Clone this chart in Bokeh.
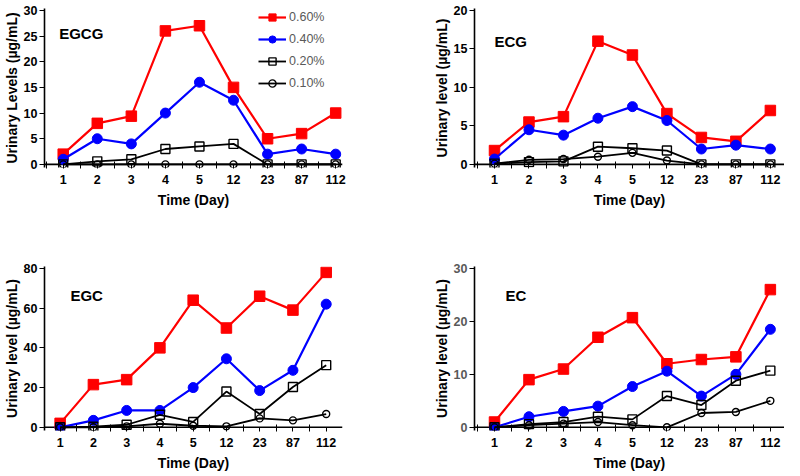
from bokeh.plotting import figure
from bokeh.layouts import gridplot
from bokeh.models import FixedTicker, Legend, LegendItem, Label, Range1d, Span
from bokeh.embed import file_html
from bokeh.resources import INLINE

# ---- data ----
days = ["1", "2", "3", "4", "5", "12", "23", "87", "112"]
doses = ["0.60%", "0.40%", "0.20%", "0.10%"]

egcg_060 = [2.0, 8.0, 9.4, 26.0, 27.0, 15.0, 5.0, 6.0, 10.0]
egcg_040 = [1.0, 5.0, 4.0, 10.0, 16.0, 12.5, 2.0, 3.0, 2.0]
egcg_020 = [0.0, 0.6, 1.0, 3.0, 3.5, 4.0, 0.0, 0.0, 0.0]
egcg_010 = [0.0, 0.0, 0.0, 0.0, 0.0, 0.0, 0.0, 0.0, 0.0]

ecg_060 = [1.8, 5.5, 6.2, 16.0, 14.2, 6.6, 3.5, 3.0, 7.0]
ecg_040 = [0.7, 4.5, 3.8, 6.0, 7.5, 5.7, 2.0, 2.5, 2.0]
ecg_020 = [0.1, 0.3, 0.4, 2.3, 2.1, 1.8, 0.0, 0.0, 0.0]
ecg_010 = [0.1, 0.6, 0.7, 1.0, 1.5, 0.5, 0.0, 0.0, 0.0]

egc_060 = [2.0, 21.5, 24.0, 40.0, 64.0, 50.0, 66.0, 59.0, 78.0]
egc_040 = [0.0, 3.5, 8.5, 8.5, 20.0, 34.5, 18.5, 28.7, 62.0]
egc_020 = [0.0, 0.3, 1.3, 6.3, 2.7, 18.0, 6.7, 20.3, 31.3]
egc_010 = [0.0, 0.0, 0.5, 1.8, 0.8, 0.5, 4.5, 3.5, 6.7]

ec_060 = [1.0, 9.0, 11.0, 17.0, 20.7, 12.0, 12.8, 13.3, 26.0]
ec_040 = [0.0, 2.0, 3.0, 4.0, 7.7, 10.6, 5.9, 10.0, 18.5]
ec_020 = [0.0, 0.6, 1.0, 2.0, 1.5, 5.9, 4.2, 8.8, 10.7]
ec_010 = [0.0, 0.4, 0.7, 1.0, 0.4, 0.0, 2.7, 2.9, 5.0]

xpos = [i + 1 for i in range(len(days))]

FONT = "Liberation Sans"

STYLES = [
    dict(color="#FF0000", marker="square", size=10.5, lw=2.2, fill="#FF0000"),
    dict(color="#0000FF", marker="circle", size=10, lw=2.2, fill="#0000FF"),
    dict(color="#000000", marker="square", size=9, lw=1.8, fill=None),
    dict(color="#000000", marker="circle", size=7, lw=1.8, fill=None),
]


def make_panel(title, series, ylabel, ymax, ystep, xr, borders, frame_h,
               title_xy, tick_color="#000000", legend=False, fig_h=236):
    left, right, top, bottom = borders
    p = figure(width=392, height=fig_h, output_backend="svg",
               toolbar_location=None,
               x_range=Range1d(*xr),
               y_range=Range1d(-0.02 * ymax, ymax * 1.012),
               min_border_left=left, min_border_right=right,
               min_border_top=top, min_border_bottom=bottom)
    p.outline_line_color = None
    p.grid.visible = False
    p.background_fill_color = "white"
    p.border_fill_color = "white"

    # x axis line at y = 0 (beneath the series)
    p.add_layout(Span(location=0, dimension="width", line_color="black",
                      line_width=1.6, level="underlay"))

    items = []
    for vals, st, lab in zip(series, STYLES, doses):
        lr = p.line(xpos, vals, line_color=st["color"], line_width=st["lw"])
        if st["fill"] is None:
            sr = p.scatter(xpos, vals, marker=st["marker"], size=st["size"],
                           line_color=st["color"], line_width=1.4,
                           fill_alpha=0)
        else:
            sr = p.scatter(xpos, vals, marker=st["marker"], size=st["size"],
                           line_color=st["color"], fill_color=st["fill"])
        items.append(LegendItem(label=lab, renderers=[lr, sr]))

    # x axis (labels + ticks, line drawn by the span at 0)
    xa = p.xaxis[0]
    xa.ticker = FixedTicker(ticks=xpos,
                            minor_ticks=[x + 0.5 for x in range(0, 10)])
    xa.major_label_overrides = {x: d for x, d in zip(xpos, days)}
    xa.axis_line_color = None
    xa.major_tick_in = 3
    xa.major_tick_out = 1
    xa.minor_tick_in = 6
    xa.minor_tick_out = 1
    xa.major_tick_line_color = "black"
    xa.minor_tick_line_color = "black"
    xa.major_label_standoff = 6
    xa.major_label_text_font = FONT
    xa.major_label_text_font_style = "bold"
    xa.major_label_text_font_size = "12.5px"
    xa.major_label_text_color = "black"
    xa.axis_label = "Time (Day)"
    xa.axis_label_text_font = FONT
    xa.axis_label_text_font_style = "bold"
    xa.axis_label_text_font_size = "14px"
    xa.axis_label_text_color = "black"
    xa.axis_label_standoff = 5

    # y axis
    ya = p.yaxis[0]
    ya.ticker = FixedTicker(ticks=list(range(0, ymax + 1, ystep)),
                            minor_ticks=[])
    ya.axis_line_width = 1.6
    ya.axis_line_color = "black"
    ya.major_tick_in = 0
    ya.major_tick_out = 5
    ya.major_tick_line_color = "black"
    ya.major_label_standoff = 2
    ya.major_label_text_font = FONT
    ya.major_label_text_font_style = "bold"
    ya.major_label_text_font_size = "12.5px"
    ya.major_label_text_color = tick_color
    ya.axis_label = ylabel
    ya.axis_label_text_font = FONT
    ya.axis_label_text_font_style = "bold"
    ya.axis_label_text_font_size = "14px"
    ya.axis_label_text_color = "black"
    ya.axis_label_standoff = 1

    p.add_layout(Label(x=title_xy[0], y=title_xy[1], text=title,
                       text_font=FONT, text_font_style="bold",
                       text_font_size="15px", text_color="black",
                       text_align="left", text_baseline="middle"))

    if legend:
        lg = Legend(items=items, location=(214, frame_h - 84),
                    label_text_font=FONT, label_text_font_size="12.5px",
                    label_text_color="#595959",
                    glyph_width=28, glyph_height=18, label_height=18,
                    label_standoff=3, spacing=4, padding=0, margin=0,
                    background_fill_alpha=0, border_line_alpha=0)
        p.add_layout(lg)
    return p


p1 = make_panel("EGCG", [egcg_060, egcg_040, egcg_020, egcg_010],
                "Urinary Levels (µg/mL)", 30, 5, (0.45, 9.2),
                (40, 50, 8, 69), 159, (0.88, 25.5), legend=True)
p2 = make_panel("ECG", [ecg_060, ecg_040, ecg_020, ecg_010],
                "Urinary level (µg/mL)", 20, 5, (0.42, 9.41),
                (82, 0, 8, 61), 167, (1.0, 16.0))
p3 = make_panel("EGC", [egc_060, egc_040, egc_020, egc_010],
                "Urinary level (µg/mL)", 80, 20, (0.53, 9.49),
                (40, 43, 30, 45), 165, (1.31, 66.5), fig_h=240)
p4 = make_panel("EC", [ec_060, ec_040, ec_020, ec_010],
                "Urinary level (µg/mL)", 30, 10, (0.42, 9.41),
                (82, 0, 29, 46), 165, (1.32, 24.8), tick_color="#595959",
                fig_h=240)

grid = gridplot([[p1, p2], [p3, p4]], toolbar_location=None)

open("out.html", "w").write(file_html(grid, INLINE))
